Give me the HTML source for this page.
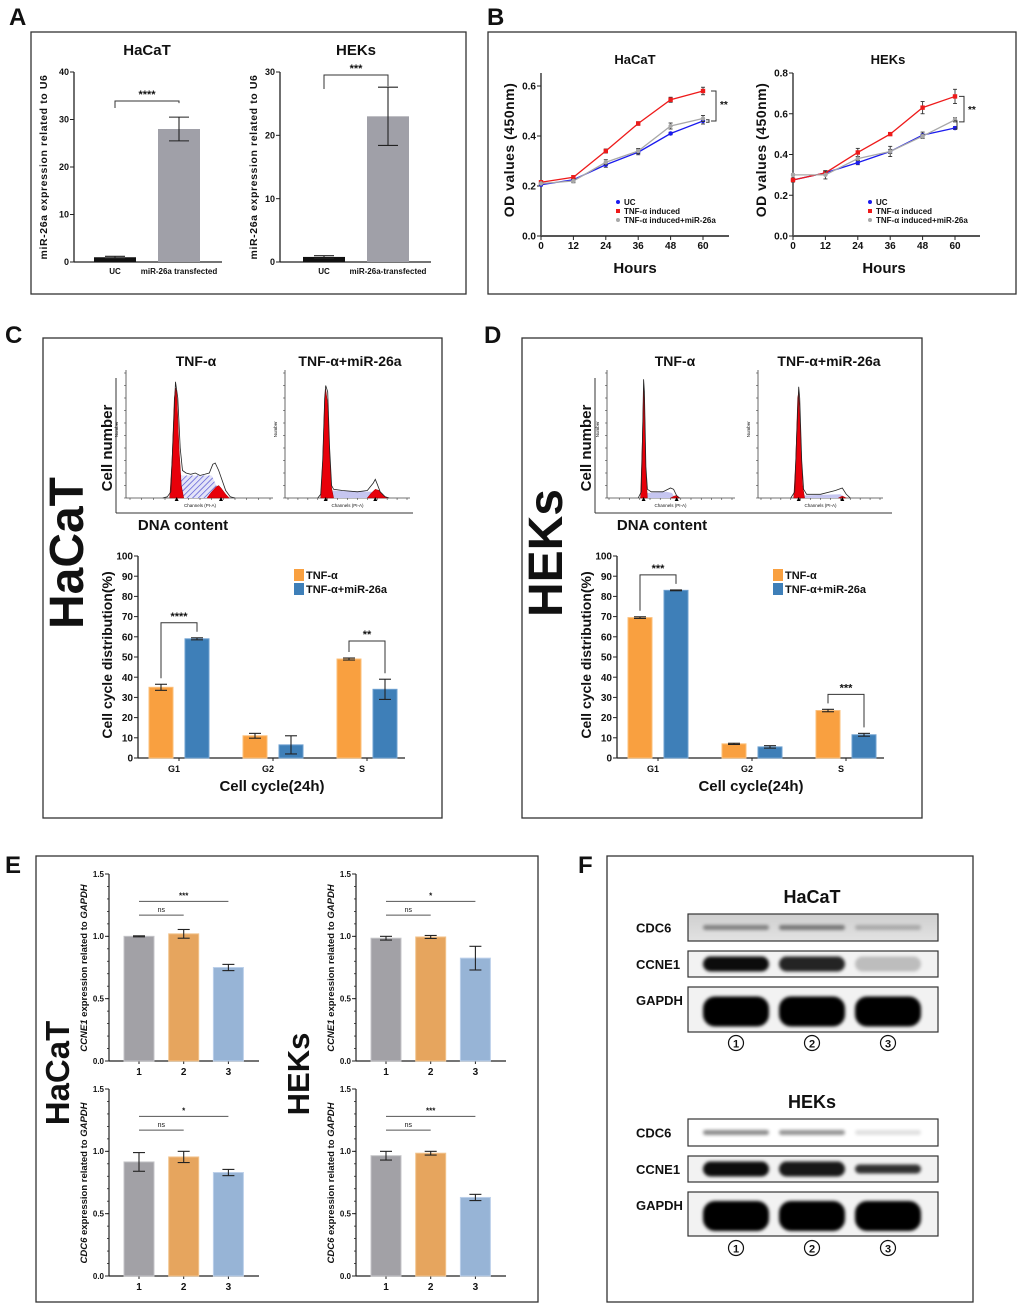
<!DOCTYPE html>
<html><head><meta charset="utf-8"><title>Figure</title>
<style>html,body{margin:0;padding:0;background:#fff}svg{display:block}</style></head>
<body>
<svg id="fig" xmlns="http://www.w3.org/2000/svg" width="1020" height="1308" viewBox="0 0 1020 1308">
<defs>
<pattern id="hatch" patternUnits="userSpaceOnUse" width="4" height="4" patternTransform="rotate(45)"><rect width="4" height="4" fill="#e4e4f8"/><line x1="0" y1="0" x2="0" y2="4" stroke="#4a4ad0" stroke-width="1.3"/></pattern>
<filter id="blur" x="-20%" y="-60%" width="140%" height="220%"><feGaussianBlur stdDeviation="1.6"/></filter>
<linearGradient id="blotbg" x1="0" y1="0" x2="0" y2="1"><stop offset="0" stop-color="#cfcfcf"/><stop offset="1" stop-color="#e2e2e2"/></linearGradient>
</defs>
</svg>
<script>
// ---------- DATA ----------
const aHaCaTCats=['UC','miR-26a transfected'];
const aHaCaTVals=[1,28];
const aHaCaTErr=[0.2,2.5];
const aHaCaTTicks=[0,10,20,30,40];
const aHEKsCats=['UC','miR-26a-transfected'];
const aHEKsVals=[0.8,23];
const aHEKsErr=[0.2,4.6];
const aHEKsTicks=[0,10,20,30];

const bHours=[0,12,24,36,48,60];
const bHaCaTUC=[0.205,0.225,0.285,0.335,0.41,0.46];
const bHaCaTTNF=[0.215,0.235,0.34,0.45,0.545,0.58];
const bHaCaTMiR=[0.21,0.22,0.295,0.34,0.44,0.47];
const bHaCaTUCErr=[0.005,0.008,0.01,0.01,0.005,0.012];
const bHaCaTTNFErr=[0.005,0.006,0.008,0.007,0.01,0.015];
const bHaCaTMiRErr=[0.005,0.007,0.01,0.01,0.012,0.012];
const bHaCaTTicks=[0,0.2,0.4,0.6];
const bHaCaTTickLabels=['0.0','0.2','0.4','0.6'];
const bHEKsUC=[0.275,0.31,0.36,0.415,0.495,0.53];
const bHEKsTNF=[0.275,0.31,0.41,0.50,0.63,0.685];
const bHEKsMiR=[0.30,0.30,0.38,0.415,0.49,0.57];
const bHEKsUCErr=[0.01,0.01,0.01,0.025,0.015,0.007];
const bHEKsTNFErr=[0.01,0.01,0.02,0.005,0.03,0.035];
const bHEKsMiRErr=[0.005,0.02,0.01,0.01,0.01,0.01];
const bHEKsTicks=[0,0.2,0.4,0.6,0.8];
const bHEKsTickLabels=['0.0','0.2','0.4','0.6','0.8'];
const bLegend=['UC','TNF-α induced','TNF-α induced+miR-26a'];

const cycCats=['G1','G2','S'];
const cycTicks=[0,10,20,30,40,50,60,70,80,90,100];
const cTNF=[35,11,49];
const cTNFErr=[1.5,1.2,0.5];
const cMiR=[59,6.5,34];
const cMiRErr=[0.5,4.5,5];
const dTNF=[69.5,7,23.5];
const dTNFErr=[0.4,0.3,0.6];
const dMiR=[83,5.5,11.5];
const dMiRErr=[0.2,0.6,0.7];

const hC1Env=[28,0,32,0.01,35,0.05,37,0.5,39,0.93,41,0.8,43,0.4,45,0.22,48,0.2,52,0.19,56,0.2,60,0.18,64,0.19,68,0.2,71,0.27,73,0.28,76,0.22,79,0.14,82,0.06,86,0.01,90,0];
const hC1G1=[34,0,36,0.3,38,0.8,39,0.88,40,0.85,42,0.4,44,0.1,46,0];
const hC1S=[42,0,42,0.15,44,0.18,70,0.18,74,0.1,78,0.02,78,0];
const hC1G2=[66,0,70,0.05,74,0.09,76,0.1,78,0.08,82,0.03,85,0];
const hC2Env=[30,0,33,0.03,35,0.3,37,0.8,38,0.9,40,0.85,42,0.4,44,0.1,46,0.07,55,0.06,70,0.05,80,0.06,86,0.12,88,0.15,90,0.11,93,0.05,98,0.01,102,0];
const hC2G1=[33,0,35,0.3,37,0.8,38,0.87,40,0.75,42,0.35,44,0.08,46,0];
const hC2S=[42,0,42,0.03,46,0.06,84,0.05,90,0.02,94,0];
const hC2G2=[80,0,84,0.04,88,0.07,92,0.06,96,0.02,100,0];
const hD1Env=[38,0,42,0.05,44,0.6,45,0.95,46,0.85,48,0.25,50,0.07,55,0.05,70,0.05,80,0.08,84,0.07,88,0.02,92,0];
const hD1G1=[41,0,43,0.4,45,0.88,46,0.8,48,0.2,50,0];
const hD1S=[48,0,48,0.04,75,0.05,82,0.04,86,0];
const hD1G2=[80,0,85,0.015,88,0.02,92,0];
const hD2Env=[30,0,34,0.05,36,0.5,38,0.89,39,0.8,41,0.3,43,0.07,46,0.03,60,0.03,75,0.06,82,0.08,86,0.03,90,0];
const hD2G1=[33,0,35,0.3,37,0.8,38,0.85,40,0.5,42,0.1,44,0];
const hD2S=[42,0,42,0.02,80,0.03,86,0];
const hD2G2=[78,0,82,0.015,86,0];

const eCats=['1','2','3'];
const eTicks=[0,0.5,1.0,1.5];
const eTickLabels=['0.0','0.5','1.0','1.5'];
const eHaCaTCCNE1=[1.0,1.02,0.75];
const eHaCaTCCNE1Err=[0.004,0.035,0.025];
const eHEKsCCNE1=[0.985,0.995,0.825];
const eHEKsCCNE1Err=[0.015,0.012,0.095];
const eHaCaTCDC6=[0.915,0.955,0.83];
const eHaCaTCDC6Err=[0.075,0.045,0.025];
const eHEKsCDC6=[0.965,0.985,0.63];
const eHEKsCDC6Err=[0.035,0.015,0.025];

const blotRows=['CDC6','CCNE1','GAPDH'];
const blotHaCaT=[[0.4,0.45,0.22],[0.95,0.85,0.22],[1,1,1]];
const blotHEKs=[[0.45,0.42,0.12],[0.95,0.9,0.8],[1,1,1]];
const blotLanes=['①','②','③'];

// ---------- HELPERS ----------
const NS='http://www.w3.org/2000/svg';
const root=document.getElementById('fig');
const FF='Liberation Sans, Arial, sans-serif';
function mk(tag,attrs,name,parent){
  const e=document.createElementNS(NS,tag);
  for(const k in attrs) e.setAttribute(k,attrs[k]);
  
  
  (parent||root).appendChild(e);
  return e;
}
function ln(x1,y1,x2,y2,name,p,s,w){return mk('line',{x1:x1,y1:y1,x2:x2,y2:y2,stroke:s||'#222','stroke-width':w||1},name,p);}
function tx(x,y,str,size,name,o){
  o=o||{};
  const a={x:x,y:y,'font-size':size,'font-weight':o.w||'bold','text-anchor':o.a||'middle',fill:o.fill||'#111','font-family':FF};
  if(o.rot) a.transform='rotate('+o.rot+' '+x+' '+y+')';
  if(o.style) a.style=o.style;
  const e=mk('text',a,name,o.p);
  e.textContent=str;
  return e;
}
function box(x,y,w,h,name){return mk('rect',{x:x,y:y,width:w,height:h,fill:'none',stroke:'#333','stroke-width':1.3},name);}
function bracket(p,x1,x2,y,l1,l2,label,size,name){
  mk('polyline',{points:x1+','+l1+' '+x1+','+y+' '+x2+','+y+' '+x2+','+l2,fill:'none',stroke:'#333','stroke-width':1},name,p);
  tx((x1+x2)/2,y-3,label,size,name+'-label',{p:p});
}

function barChart(c){
  const g=mk('g',{},c.name);
  const ys=v=>c.y0-(v/c.max)*(c.y0-c.yTop);
  const bx=i=>c.x0+c.pad+i*c.step;
  ln(c.x0,c.yTop,c.x0,c.y0,'y-axis',g,'#222',c.axW||1.3);
  ln(c.x0,c.y0,c.xEnd,c.y0,'x-axis',g,'#222',c.axW||1.3);
  if(c.minor){for(let v=0;v<=c.max+1e-9;v+=c.minor){ln(c.x0-2,ys(v),c.x0,ys(v),'y-minor-tick',g,'#222',0.8);}}
  c.ticks.forEach((t,i)=>{
    ln(c.x0-4,ys(t),c.x0,ys(t),'y-tick',g,'#222',1);
    tx(c.x0-5,ys(t)+c.tickSize*0.36,c.tickLabels[i],c.tickSize,'y-tick-label',{a:'end',p:g,style:c.tickStyle||''});
  });
  c.cats.forEach((cat,i)=>{
    if(c.xTicks) ln(bx(i),c.y0,bx(i),c.y0+3,'x-tick',g,'#222',1);
    tx(bx(i)+(c.catDx||0),c.catY,cat,c.catSize,'x-tick-label',{p:g,style:c.catStyle||''});
  });
  c.series.forEach(s=>{
    s.vals.forEach((v,i)=>{
      const cx=bx(i)+s.off;
      mk('rect',{x:cx-c.barW/2,y:ys(v),width:c.barW,height:c.y0-ys(v),fill:s.color,stroke:s.stroke||'none','stroke-width':1},s.name+'-bar-'+c.cats[i],g);
      const e=s.errs[i];
      ln(cx,ys(v-e),cx,ys(v+e),'error-bar',g,'#222',1.1);
      ln(cx-c.cap,ys(v+e),cx+c.cap,ys(v+e),'error-cap',g,'#222',1.1);
      ln(cx-c.cap,ys(v-e),cx+c.cap,ys(v-e),'error-cap',g,'#222',1.1);
    });
  });
  return {g:g,ys:ys,bx:bx};
}

function lineChart(c){
  const g=mk('g',{},c.name);
  const ys=v=>c.y0-v*c.perUnit;
  const xs=h=>c.x0+h/60*(c.x60-c.x0);
  ln(c.x0,c.yTop,c.x0,c.y0,'y-axis',g,'#222',1.3);
  ln(c.x0,c.y0,c.xEnd,c.y0,'x-axis',g,'#555',2);
  c.ticks.forEach((t,i)=>{
    ln(c.x0-4,ys(t),c.x0,ys(t),'y-tick',g);
    tx(c.x0-5,ys(t)+3.5,c.tickLabels[i],10,'y-tick-label',{a:'end',p:g,style:'font-stretch:condensed'});
  });
  bHours.forEach(h=>{
    ln(xs(h),c.y0,xs(h),c.y0+4,'x-tick',g);
    tx(xs(h),c.y0+13,String(h),10,'x-tick-label',{p:g});
  });
  c.series.forEach(s=>{
    const pts=s.vals.map((v,i)=>xs(bHours[i])+','+ys(v)).join(' ');
    mk('polyline',{points:pts,fill:'none',stroke:s.color,'stroke-width':1.3},s.name+'-line',g);
    s.vals.forEach((v,i)=>{
      const x=xs(bHours[i]),e=s.errs[i];
      ln(x,ys(v-e),x,ys(v+e),'error-bar',g,'#333',0.9);
      ln(x-2,ys(v+e),x+2,ys(v+e),'error-cap',g,'#333',0.9);
      ln(x-2,ys(v-e),x+2,ys(v-e),'error-cap',g,'#333',0.9);
      if(s.shape==='sq') mk('rect',{x:x-2.2,y:ys(v)-2.2,width:4.4,height:4.4,fill:s.color},s.name+'-point',g);
      else mk('circle',{cx:x,cy:ys(v),r:2.2,fill:s.color},s.name+'-point',g);
    });
  });
  bLegend.forEach((l,i)=>{
    const s=c.series[i];
    if(s.shape==='sq') mk('rect',{x:c.legX-2,y:c.legY+i*9-5,width:4,height:4,fill:s.color},'legend-marker',g);
    else mk('circle',{cx:c.legX,cy:c.legY+i*9-3,r:2,fill:s.color},'legend-marker',g);
    tx(c.legX+6,c.legY+i*9,l,8,'legend-entry',{a:'start',p:g,style:'font-stretch:condensed'});
  });
  return {g:g,ys:ys,xs:xs};
}

function hist(c){
  const g=mk('g',{},c.name);
  const xs=ch=>c.x0+ch/c.chMax*(c.x1-c.x0);
  const ys=v=>c.base-v*c.h;
  const path=(arr)=>{let s='';for(let i=0;i<arr.length;i+=2){s+=(i?'L':'M')+xs(arr[i]).toFixed(1)+','+ys(arr[i+1]).toFixed(1);}return s;};
  ln(c.ax,c.base-c.h-3,c.ax,c.base,'hist-y-axis',g,'#444',0.8);
  ln(c.ax,c.base,c.x1+3,c.base,'hist-x-axis',g,'#444',0.8);
  for(let k=0;k<=c.chMax;k+=c.chMax/12){ln(xs(k),c.base,xs(k),c.base+2,'hist-x-tick',g,'#444',0.6);}
  for(let k=0;k<=10;k++){ln(c.ax-2,c.base-k*c.h/10,c.ax,c.base-k*c.h/10,'hist-y-tick',g,'#444',0.6);}
  mk('path',{d:path(c.s)+'Z',fill:c.hatch?'url(#hatch)':'#c6c6f0',stroke:'none'},'s-phase-area',g);
  mk('path',{d:path(c.g1)+'Z',fill:'#e8000a',stroke:'#900','stroke-width':0.5},'g1-peak',g);
  mk('path',{d:path(c.g2)+'Z',fill:'#e8000a',stroke:'#900','stroke-width':0.5},'g2-peak',g);
  mk('path',{d:path(c.env),fill:'none',stroke:'#222','stroke-width':0.8},'histogram-envelope',g);
  tx((c.x0+c.x1)/2,c.base+9,'Channels (PI-A)',4.5,'hist-x-title',{p:g,w:'normal'});
  tx(c.ax-8,c.base-c.h*0.55,'Number',4.5,'hist-y-title',{p:g,w:'normal',rot:-90});
  mk('path',{d:'M'+xs(c.g1m)+','+(c.base-1)+'l-2,4h4z',fill:'#000'},'g1-marker',g);
  mk('path',{d:'M'+xs(c.g2m)+','+(c.base-1)+'l-2,4h4z',fill:'#000'},'g2-marker',g);
}

// ---------- PANEL LABELS ----------
tx(9,25,'A',24,'panel-label-a',{a:'start'});
tx(487,25,'B',24,'panel-label-b',{a:'start'});
tx(5,343,'C',24,'panel-label-c',{a:'start'});
tx(484,343,'D',24,'panel-label-d',{a:'start'});
tx(5,873,'E',24,'panel-label-e',{a:'start'});
tx(578,873,'F',24,'panel-label-f',{a:'start'});
box(31,32,435,262,'panel-a-frame');
box(488,32,528,262,'panel-b-frame');
box(43,338,399,480,'panel-c-frame');
box(522,338,400,480,'panel-d-frame');
box(36,856,502,446,'panel-e-frame');
box(607,856,366,446,'panel-f-frame');

// ---------- PANEL A ----------
const aCond='font-stretch:condensed';
let A1=barChart({name:'a-hacat-chart',x0:74,y0:262,yTop:72,max:40,ticks:aHaCaTTicks,tickLabels:aHaCaTTicks.map(String),tickSize:9,pad:41,step:64,barW:42,xEnd:222,cats:aHaCaTCats,catY:274,catSize:8,catStyle:aCond,cap:10,
 series:[{vals:aHaCaTVals,errs:aHaCaTErr,color:'#a0a0a8',off:0,name:'expression'}]});
A1.g.querySelector('rect').setAttribute('fill','#111');
tx(147,55,'HaCaT',15,'a-hacat-title');
tx(47,167,'miR-26a expression related to U6',10.5,'a-hacat-y-title',{rot:-90,style:'letter-spacing:0.6px'});
bracket(A1.g,A1.bx(0),A1.bx(1),101,108,A1.ys(aHaCaTVals[1]+aHaCaTErr[1])-14,'****',11,'a-hacat-significance');
let A2=barChart({name:'a-heks-chart',x0:280,y0:262,yTop:72,max:30,ticks:aHEKsTicks,tickLabels:aHEKsTicks.map(String),tickSize:9,pad:44,step:64,barW:42,xEnd:431,cats:aHEKsCats,catY:274,catSize:8,catStyle:aCond,cap:10,
 series:[{vals:aHEKsVals,errs:aHEKsErr,color:'#a0a0a8',off:0,name:'expression'}]});
A2.g.querySelector('rect').setAttribute('fill','#111');
tx(356,55,'HEKs',15,'a-heks-title');
tx(257,167,'miR-26a expression related to U6',10.5,'a-heks-y-title',{rot:-90,style:'letter-spacing:0.6px'});
bracket(A2.g,A2.bx(0),A2.bx(1),75,89,A2.ys(aHEKsVals[1]+aHEKsErr[1])-1,'***',11,'a-heks-significance');

// ---------- PANEL B ----------
const B1=lineChart({name:'b-hacat-chart',x0:541,y0:236,yTop:73,perUnit:250,x60:703,xEnd:729,ticks:bHaCaTTicks,tickLabels:bHaCaTTickLabels,legX:618,legY:205,
 series:[{vals:bHaCaTUC,errs:bHaCaTUCErr,color:'#1a1aee',name:'uc'},{vals:bHaCaTTNF,errs:bHaCaTTNFErr,color:'#ee1a1a',shape:'sq',name:'tnf'},{vals:bHaCaTMiR,errs:bHaCaTMiRErr,color:'#a8a8a8',name:'tnf-mir'}]});
tx(635,64,'HaCaT',13,'b-hacat-title',{style:aCond});
tx(635,273,'Hours',15,'b-hacat-x-title',{style:aCond});
tx(514,150,'OD values (450nm)',14,'b-hacat-y-title',{rot:-90,style:'letter-spacing:0.5px'});
mk('polyline',{points:'711,'+B1.ys(bHaCaTTNF[5])+' 716,'+B1.ys(bHaCaTTNF[5])+' 716,'+B1.ys(bHaCaTMiR[5]-0.01)+' 711,'+B1.ys(bHaCaTMiR[5]-0.01),fill:'none',stroke:'#333'},'b-hacat-bracket',B1.g);
mk('polyline',{points:'706,'+B1.ys(bHaCaTMiR[5]-0.005)+' 709,'+B1.ys(bHaCaTMiR[5]-0.005)+' 709,'+B1.ys(bHaCaTUC[5]-0.005)+' 706,'+B1.ys(bHaCaTUC[5]-0.005),fill:'none',stroke:'#333'},'b-hacat-small-bracket',B1.g);
tx(720,108,'**',10,'b-hacat-significance',{a:'start',p:B1.g});
const B2=lineChart({name:'b-heks-chart',x0:793,y0:236,yTop:73,perUnit:203.75,x60:955,xEnd:980,ticks:bHEKsTicks,tickLabels:bHEKsTickLabels,legX:870,legY:205,
 series:[{vals:bHEKsUC,errs:bHEKsUCErr,color:'#1a1aee',name:'uc'},{vals:bHEKsTNF,errs:bHEKsTNFErr,color:'#ee1a1a',shape:'sq',name:'tnf'},{vals:bHEKsMiR,errs:bHEKsMiRErr,color:'#a8a8a8',name:'tnf-mir'}]});
tx(888,64,'HEKs',13,'b-heks-title',{style:aCond});
tx(884,273,'Hours',15,'b-heks-x-title',{style:aCond});
tx(766,150,'OD values (450nm)',14,'b-heks-y-title',{rot:-90,style:'letter-spacing:0.5px'});
mk('polyline',{points:'959,'+B2.ys(bHEKsTNF[5])+' 964,'+B2.ys(bHEKsTNF[5])+' 964,'+B2.ys(bHEKsMiR[5]-0.01)+' 959,'+B2.ys(bHEKsMiR[5]-0.01),fill:'none',stroke:'#333'},'b-heks-bracket',B2.g);
mk('polyline',{points:'954,'+B2.ys(bHEKsMiR[5]-0.005)+' 957,'+B2.ys(bHEKsMiR[5]-0.005)+' 957,'+B2.ys(bHEKsUC[5]-0.005)+' 954,'+B2.ys(bHEKsUC[5]-0.005),fill:'none',stroke:'#333'},'b-heks-small-bracket',B2.g);
tx(968,113,'**',10,'b-heks-significance',{a:'start',p:B2.g});

// ---------- PANELS C & D ----------
function cyclePanel(off,label,tnf,tnfErr,mir,mirErr,hists,sig){
  const p=off?'d':'c';
  tx(83+off,553,label,48,p+'-cell-line-label',{rot:-90});
  tx(196+off,366,'TNF-α',14,p+'-hist-title-tnf');
  tx(350+off,366,'TNF-α+miR-26a',14,p+'-hist-title-tnf-mir');
  ln(116+off,378,116+off,513,p+'-dna-frame-y',null,'#333',1);
  ln(116+off,513,413+off,513,p+'-dna-frame-x',null,'#333',1);
  tx(112+off,448,'Cell number',15,p+'-cell-number-title',{rot:-90});
  tx(183+off,530,'DNA content',15,p+'-dna-content-title');
  hists.forEach(h=>hist(h));
  const C=barChart({name:p+'-cycle-chart',x0:138+off,y0:758,yTop:556,max:100,ticks:cycTicks,tickLabels:cycTicks.map(String),tickSize:10,pad:41,step:94,barW:24,xEnd:405+off,cats:cycCats,catY:772,catSize:9,catDx:-5,xTicks:true,cap:6,
   series:[{vals:tnf,errs:tnfErr,color:'#f9a040',stroke:'#fbbf7a',off:-18,name:'tnf'},{vals:mir,errs:mirErr,color:'#3e7fb8',stroke:'#6ea0d0',off:18,name:'tnf-mir'}]});
  tx(272+off,791,'Cell cycle(24h)',15,p+'-x-title');
  tx(112+off,655,'Cell cycle distribution(%)',14,p+'-y-title',{rot:-90});
  mk('rect',{x:294+off,y:569,width:10,height:12,fill:'#f9a040'},p+'-legend-swatch-tnf');
  tx(306+off,579,'TNF-α',11,p+'-legend-tnf',{a:'start'});
  mk('rect',{x:294+off,y:583,width:10,height:12,fill:'#3e7fb8'},p+'-legend-swatch-tnf-mir');
  tx(306+off,593,'TNF-α+miR-26a',11,p+'-legend-tnf-mir',{a:'start'});
  sig.forEach(s=>{
    const i=s.i,x1=C.bx(i)-18,x2=C.bx(i)+18;
    const l1=C.ys(tnf[i]+tnfErr[i])-6,l2=C.ys(mir[i]+mirErr[i])-6;
    bracket(C.g,x1,x2,Math.min(l1,l2)-s.gap,l1,l2,s.label,11,p+'-significance-'+cycCats[i]);
  });
}
cyclePanel(0,'HaCaT',cTNF,cTNFErr,cMiR,cMiRErr,[
 {name:'c-hist-tnf',ax:126,x0:130,x1:270,chMax:120,base:498,h:125,env:hC1Env,g1:hC1G1,s:hC1S,g2:hC1G2,hatch:true,g1m:40,g2m:78},
 {name:'c-hist-tnf-mir',ax:285,x0:288,x1:407,chMax:120,base:498,h:125,env:hC2Env,g1:hC2G1,s:hC2S,g2:hC2G2,hatch:false,g1m:38,g2m:88}],
 [{i:0,label:'****',gap:9},{i:2,label:'**',gap:11}]);
cyclePanel(479,'HEKs',dTNF,dTNFErr,dMiR,dMiRErr,[
 {name:'d-hist-tnf',ax:607,x0:609,x1:732,chMax:160,base:498,h:125,env:hD1Env,g1:hD1G1,s:hD1S,g2:hD1G2,hatch:false,g1m:45,g2m:88},
 {name:'d-hist-tnf-mir',ax:758,x0:761,x1:880,chMax:120,base:498,h:125,env:hD2Env,g1:hD2G1,s:hD2S,g2:hD2G2,hatch:false,g1m:38,g2m:82}],
 [{i:0,label:'***',gap:9},{i:2,label:'***',gap:9}]);

// ---------- PANEL E ----------
function eChart(name,x0,y0,vals,errs,gene,sig){
  const C=barChart({name:name,x0:x0,y0:y0,yTop:y0-187,max:1.5,ticks:eTicks,tickLabels:eTickLabels,tickSize:8,minor:0.1,pad:30,step:44.7,barW:30,xEnd:x0+150,cats:eCats,catY:y0+14,catSize:10,xTicks:true,cap:6,axW:1.2,
   series:[{vals:vals,errs:errs,color:'#a2a1a6',off:0,name:'expression'}]});
  const rects=C.g.querySelectorAll('rect');
  const cols=['#a2a1a6','#e6a55e','#97b4d6'],strokes=['#c4c4c8','#f2c48e','#bcd0ea'];
  rects.forEach((r,i)=>{r.setAttribute('fill',cols[i]);r.setAttribute('stroke',strokes[i]);});
  const yt=mk('text',{x:x0-22,y:y0-93,'font-size':9.5,'font-weight':'bold','text-anchor':'middle',fill:'#111','font-family':FF,transform:'rotate(-90 '+(x0-22)+' '+(y0-93)+')'},name+'-y-title');
  const t1=mk('tspan',{'font-style':'italic'},'gene-name',yt); t1.textContent=gene;
  const t2=mk('tspan',{},'y-title-text',yt); t2.textContent=' expression related to ';
  const t3=mk('tspan',{'font-style':'italic'},'reference-gene',yt); t3.textContent='GAPDH';
  ln(C.bx(0),C.ys(1.28),C.bx(2),C.ys(1.28),'significance-line',C.g,'#555',1);
  tx((C.bx(0)+C.bx(2))/2,C.ys(1.28)-3,sig,8,'significance-label',{p:C.g});
  ln(C.bx(0),C.ys(1.17),C.bx(1),C.ys(1.17),'ns-line',C.g,'#555',1);
  tx((C.bx(0)+C.bx(1))/2,C.ys(1.17)-3,'ns',7,'ns-label',{p:C.g,w:'normal'});
}
eChart('e-hacat-ccne1',109,1061,eHaCaTCCNE1,eHaCaTCCNE1Err,'CCNE1','***');
eChart('e-heks-ccne1',356,1061,eHEKsCCNE1,eHEKsCCNE1Err,'CCNE1','*');
eChart('e-hacat-cdc6',109,1276,eHaCaTCDC6,eHaCaTCDC6Err,'CDC6','*');
eChart('e-heks-cdc6',356,1276,eHEKsCDC6,eHEKsCDC6Err,'CDC6','***');
tx(69,1073,'HaCaT',33,'e-hacat-label',{rot:-90});
tx(309,1074,'HEKs',31,'e-heks-label',{rot:-90});

// ---------- PANEL F ----------
function blots(title,ty,rows,data,circY){
  tx(812,ty,title,18,'f-title-'+title.toLowerCase());
  const laneX=[736,812,888];
  const thick=[5,15,30];
  rows.forEach((r,ri)=>{
    const g=mk('g',{},'blot-'+title.toLowerCase()+'-'+blotRows[ri].toLowerCase());
    let bg='#f2f2f2';
    if(ri===0&&title==='HaCaT') bg='url(#blotbg)';
    if(ri===0&&title==='HEKs') bg='#ffffff';
    mk('rect',{x:688,y:r[0],width:250,height:r[1]-r[0],fill:bg,stroke:'#333','stroke-width':1.2},'blot-frame',g);
    data[ri].forEach((v,li)=>{
      const hgt=thick[ri]*(ri===1&&title==='HEKs'&&li===2?0.6:1);
      mk('rect',{x:laneX[li]-33,y:(r[0]+r[1])/2-hgt/2+(ri===2?2:0),width:66,height:hgt,rx:Math.min(hgt/2,12),fill:'#000','fill-opacity':v,filter:'url(#blur)'},'blot-band',g);
    });
    tx(636,(ri===2?r[0]+18:(r[0]+r[1])/2+5),blotRows[ri],13,'blot-label',{a:'start',p:g});
  });
  blotLanes.forEach((l,i)=>{
    mk('circle',{cx:laneX[i],cy:circY,r:7.5,fill:'none',stroke:'#111','stroke-width':1.2},'lane-circle');
    tx(laneX[i],circY+4.5,String(i+1),11,'lane-label');
  });
}
blots('HaCaT',903,[[914,941],[951,977],[987,1032]],blotHaCaT,1043);
blots('HEKs',1108,[[1119,1146],[1156,1182],[1192,1236]],blotHEKs,1248);
</script>
</body></html>
